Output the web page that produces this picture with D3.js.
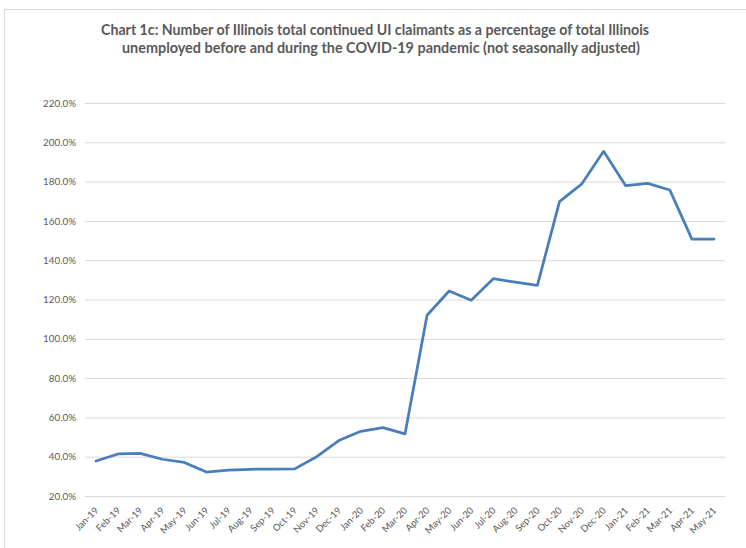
<!DOCTYPE html>
<html><head><meta charset="utf-8">
<script src="https://cdn.jsdelivr.net/npm/d3@7"></script>
<style>
html,body{margin:0;padding:0;background:#fff;}
svg{display:block;}
</style></head>
<body>
<svg id="chart" width="746" height="548"></svg>
<script>
const categories = ["Jan-19","Feb-19","Mar-19","Apr-19","May-19","Jun-19","Jul-19","Aug-19","Sep-19","Oct-19","Nov-19","Dec-19",
  "Jan-20","Feb-20","Mar-20","Apr-20","May-20","Jun-20","Jul-20","Aug-20","Sep-20","Oct-20","Nov-20","Dec-20",
  "Jan-21","Feb-21","Mar-21","Apr-21","May-21"];
const values = [37.8,41.4,41.7,38.7,37.1,32.2,33.2,33.6,33.7,33.8,40.0,48.2,
  52.9,54.8,51.6,112.0,124.3,119.6,130.6,128.8,127.2,169.8,178.7,195.4,
  177.9,179.1,175.7,150.7,150.7];
const yTicks = [20,40,60,80,100,120,140,160,180,200,220];
const titleLines = ["Chart 1c: Number of Illinois total continued UI claimants as a percentage of total Illinois",
  "unemployed before and during the COVID-19 pandemic (not seasonally adjusted)"];

const svg = d3.select("#chart");
const plot = {left:85, right:725, top:103, bottom:496};
const textColor = "#595959";
const font = "Lato, 'Open Sans', sans-serif";

// chart border
svg.append("rect").attr("x",4.5).attr("y",9.5).attr("width",760).attr("height",560)
  .attr("fill","none").attr("stroke","#d9d9d9").attr("stroke-width",1);

// title
const titleSpans = [[101,649,35],[122,640,53]];
titleLines.forEach((t,i)=>{
  const [x0,x1,y] = titleSpans[i];
  svg.append("text").attr("x",x0).attr("y",y).text(t)
    .attr("font-family",font).attr("font-weight","bold").attr("font-size",14.5)
    .attr("fill",textColor)
    .attr("textLength",x1-x0).attr("lengthAdjust","spacingAndGlyphs");
});

const x = d3.scaleBand().domain(categories).range([plot.left, plot.right]).paddingInner(0).paddingOuter(0);
const y = d3.scaleLinear().domain([20,220]).range([plot.bottom, plot.top]);

// gridlines via axis
const yAxis = d3.axisLeft(y).tickValues(yTicks).tickSize(-(plot.right-plot.left))
  .tickFormat(d=>d.toFixed(1)+"%").tickPadding(9);
const gy = svg.append("g").attr("transform",`translate(${plot.left},0)`).call(yAxis);
gy.select(".domain").remove();
gy.selectAll(".tick line").attr("stroke","#d9d9d9").attr("stroke-width",1);
gy.selectAll(".tick text").attr("font-family",font).attr("font-size",9.8).attr("fill",textColor);

// x axis labels
const xAxis = d3.axisBottom(x).tickSize(0).tickPadding(0);
const gx = svg.append("g").attr("transform",`translate(0,${plot.bottom})`).call(xAxis);
gx.select(".domain").remove();
gx.selectAll(".tick text")
  .attr("font-family",font).attr("font-size",9.5).attr("fill",textColor)
  .attr("text-anchor","end").attr("dy",0).attr("y",0)
  .attr("transform","translate(3,15) rotate(-45)");

// line
const line = d3.line().x((d,i)=>x(categories[i])+x.bandwidth()/2).y(d=>y(d));
svg.append("path").datum(values).attr("d",line)
  .attr("fill","none").attr("stroke","#4a7ebb").attr("stroke-width",2.75)
  .attr("stroke-linejoin","round").attr("stroke-linecap","round");
</script>
</body></html>
